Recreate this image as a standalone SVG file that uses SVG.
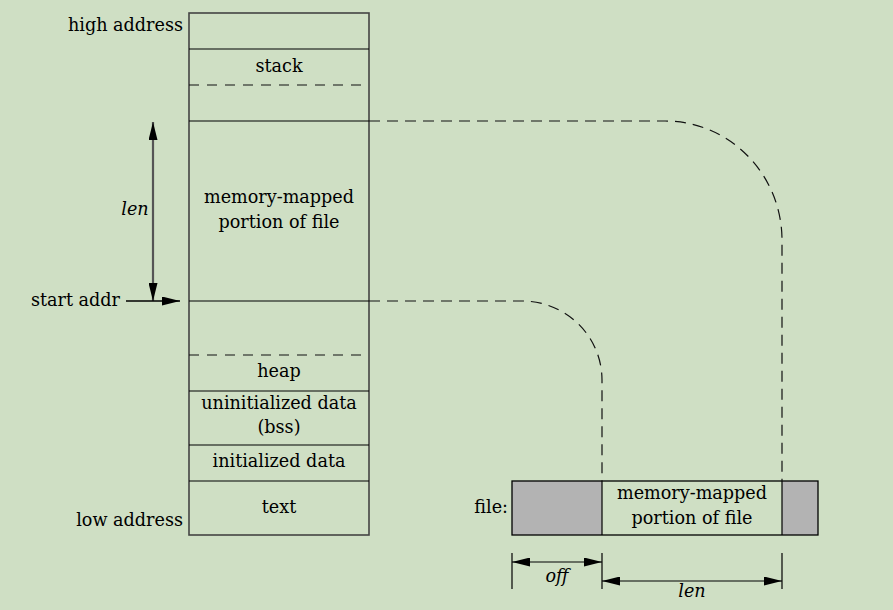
<svg xmlns="http://www.w3.org/2000/svg" width="893" height="610" viewBox="0 0 893 610">
<style>
text{font-family:"DejaVu Serif","Liberation Serif",serif;font-size:17.6px;fill:#000}
.it{font-style:italic}
.c{text-anchor:middle}
.r{text-anchor:end}
.box{fill:none;stroke:#444;stroke-width:1.6}
.sep{stroke:#000;stroke-width:1.2}
.dsep{stroke:#111;stroke-width:1.2;stroke-dasharray:10 8}
.conn{fill:none;stroke:#111;stroke-width:1.2;stroke-dasharray:11 7}
.dim{fill:none;stroke:#000;stroke-width:1.2}
.gray{fill:#b3b3b3}
</style>
<defs>
<marker id="ah" viewBox="0 0 18 9" refX="18" refY="4.5" markerWidth="18" markerHeight="9" markerUnits="userSpaceOnUse" orient="auto-start-reverse">
<path d="M0,0 L18,4.5 L0,9 z" fill="#000"/>
</marker>
</defs>
<rect width="893" height="610" fill="#cfdfc4"/>

<g id="memory">
<rect class="box" x="189" y="13" width="180" height="522"/>
<text class="r" x="183" y="31">high address</text>
<text class="r" x="183" y="526">low address</text>
</g>
<g id="seg-top">
<line class="sep" x1="189" y1="49" x2="369" y2="49"/>
</g>
<g id="seg-stack">
<text class="c" x="279" y="72">stack</text>
<line class="dsep" x1="189" y1="85" x2="369" y2="85"/>
</g>
<g id="seg-mmap">
<line class="sep" x1="189" y1="121" x2="369" y2="121"/>
<text class="c" x="279" y="203">memory-mapped</text>
<text class="c" x="279" y="228">portion of file</text>
<line class="sep" x1="189" y1="301" x2="369" y2="301"/>
</g>
<g id="seg-heap">
<line class="dsep" x1="189" y1="355" x2="369" y2="355"/>
<text class="c" x="279" y="377">heap</text>
<line class="sep" x1="189" y1="391" x2="369" y2="391"/>
</g>
<g id="seg-bss">
<text class="c" x="279" y="409">uninitialized data</text>
<text class="c" x="279" y="433">(bss)</text>
<line class="sep" x1="189" y1="445" x2="369" y2="445"/>
</g>
<g id="seg-data">
<text class="c" x="279" y="467">initialized data</text>
<line class="sep" x1="189" y1="481" x2="369" y2="481"/>
</g>
<g id="seg-text">
<text class="c" x="279" y="513">text</text>
</g>

<g id="file">
<rect class="gray" x="512" y="481" width="90" height="54"/>
<rect class="gray" x="782" y="481" width="36" height="54"/>
<rect x="512" y="481" width="306" height="54" fill="none" stroke="#000" stroke-width="1.3"/>
<line class="sep" x1="602" y1="481" x2="602" y2="535"/>
<line class="sep" x1="782" y1="481" x2="782" y2="535"/>
<text class="r" x="508" y="513">file:</text>
<text class="c" x="692" y="499">memory-mapped</text>
<text class="c" x="692" y="524">portion of file</text>
</g>

<g id="connectors">
<path class="conn" d="M369,121 H665 A117,119 0 0 1 782,240 V481"/>
<path class="conn" d="M369,301 H522 A80,79 0 0 1 602,380 V481"/>
<line x1="153" y1="122" x2="153" y2="301" stroke="#555" stroke-width="2.2" marker-start="url(#ah)" marker-end="url(#ah)"/>
<line x1="126" y1="301" x2="180" y2="301" stroke="#000" stroke-width="1.3" marker-end="url(#ah)"/>
<text class="c it" x="135" y="215">len</text>
<text class="r" x="120" y="306">start addr</text>
<line class="dim" x1="512" y1="553" x2="512" y2="589"/>
<line class="dim" x1="602" y1="553" x2="602" y2="589"/>
<line class="dim" x1="782" y1="553" x2="782" y2="589"/>
<line class="dim" x1="512" y1="562" x2="602" y2="562" marker-start="url(#ah)" marker-end="url(#ah)"/>
<line class="dim" x1="602" y1="581" x2="782" y2="581" marker-start="url(#ah)" marker-end="url(#ah)"/>
<text class="c it" x="557" y="582">off</text>
<text class="c it" x="692" y="597">len</text>
</g>
</svg>
